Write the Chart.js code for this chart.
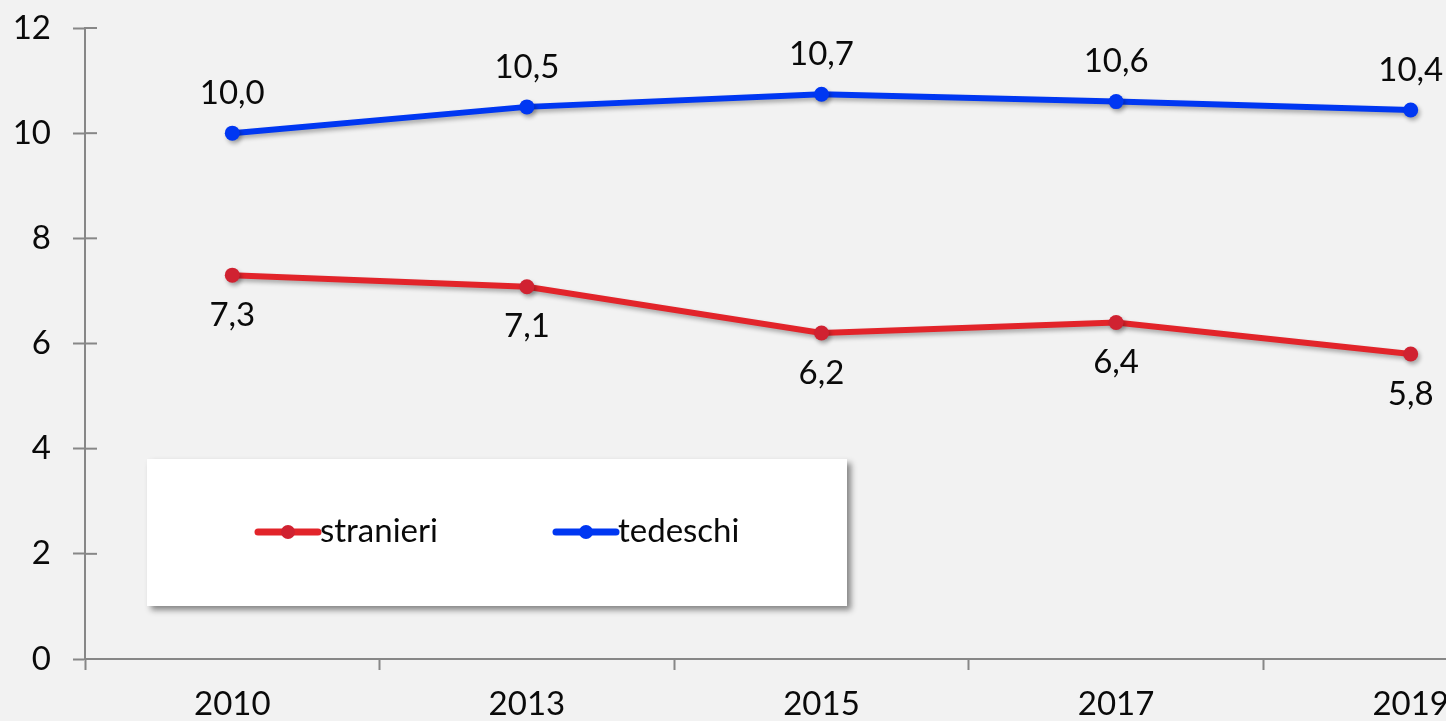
<!DOCTYPE html>
<html>
<head>
<meta charset="utf-8">
<script src="https://cdn.jsdelivr.net/npm/chart.js@4/dist/chart.umd.min.js"></script>
<style>
  html, body { margin: 0; padding: 0; background: #f2f2f2; overflow: hidden; }
  #wrap { position: absolute; left: 0; top: 0; width: 1600px; height: 740px; }
</style>
</head>
<body>
<div id="wrap"><canvas id="chart" width="1600" height="740"></canvas></div>
<script>
const years = ["2010", "2013", "2015", "2017", "2019"];
const stranieri = [7.3, 7.08, 6.2, 6.4, 5.8];
const tedeschi = [10.0, 10.5, 10.74, 10.6, 10.44];
const yTicks = [0, 2, 4, 6, 8, 10, 12];

const FONT = "Lato, 'Open Sans', sans-serif";
const FSIZE = 33;
const AXIS = "#878787";

// shadow under the lines
const lineShadow = {
  id: "lineShadow",
  beforeDatasetDraw(chart) {
    const ctx = chart.ctx;
    ctx.save();
    ctx.shadowColor = "rgba(0,0,0,0.3)";
    ctx.shadowBlur = 4;
    ctx.shadowOffsetX = 2;
    ctx.shadowOffsetY = 3;
  },
  afterDatasetDraw(chart) {
    chart.ctx.restore();
  },
};

// value labels, blue above / red below
const valueLabels = {
  id: "valueLabels",
  afterDatasetsDraw(chart) {
    const ctx = chart.ctx;
    ctx.save();
    ctx.font = FSIZE + "px " + FONT;
    ctx.fillStyle = "#0a0a0a";
    ctx.textAlign = "center";
    ctx.textBaseline = "middle";
    chart.data.datasets.forEach((ds, i) => {
      const meta = chart.getDatasetMeta(i);
      const off = ds.labelOffset;
      meta.data.forEach((pt, j) => {
        const txt = ds.data[j].toFixed(1).replace(".", ",");
        ctx.fillText(txt, pt.x, pt.y + off);
      });
    });
    ctx.restore();
  },
};

// y ticks crossing the axis + boxed legend
const extras = {
  id: "extras",
  beforeDatasetsDraw(chart) {
    const ctx = chart.ctx;
    const a = chart.chartArea;
    const y = chart.scales.y;
    ctx.save();
    ctx.strokeStyle = AXIS;
    ctx.lineWidth = 2;
    yTicks.forEach(v => {
      const py = y.getPixelForValue(v);
      ctx.beginPath();
      ctx.moveTo(a.left, py);
      ctx.lineTo(a.left + 12, py);
      ctx.stroke();
    });

    // legend box
    const bx = a.left + 62, by = 459, bw = 700, bh = 147;
    ctx.shadowColor = "rgba(0,0,0,0.45)";
    ctx.shadowBlur = 6;
    ctx.shadowOffsetX = 4;
    ctx.shadowOffsetY = 4;
    ctx.fillStyle = "#ffffff";
    ctx.fillRect(bx, by, bw, bh);
    ctx.shadowColor = "transparent";

    const items = [
      { ds: chart.data.datasets[0], x: bx + 111 },
      { ds: chart.data.datasets[1], x: bx + 409 },
    ];
    const ly = by + 73;
    ctx.font = FSIZE + "px " + FONT;
    ctx.textBaseline = "middle";
    ctx.textAlign = "left";
    items.forEach(it => {
      ctx.strokeStyle = it.ds.borderColor;
      ctx.lineWidth = 7;
      ctx.lineCap = "round";
      ctx.beginPath();
      ctx.moveTo(it.x, ly);
      ctx.lineTo(it.x + 60, ly);
      ctx.stroke();
      ctx.fillStyle = it.ds.pointBackgroundColor;
      ctx.beginPath();
      ctx.arc(it.x + 30, ly, 7, 0, Math.PI * 2);
      ctx.fill();
      ctx.fillStyle = "#0a0a0a";
      ctx.fillText(it.ds.label, it.x + 62, ly - 1);
    });
    ctx.restore();
  },
};

new Chart(document.getElementById("chart").getContext("2d"), {
  type: "line",
  data: {
    labels: years,
    datasets: [
      {
        label: "stranieri",
        data: stranieri,
        borderColor: "#e2242a",
        pointBackgroundColor: "#d02231",
        pointBorderWidth: 0,
        borderWidth: 6,
        pointRadius: 7.5,
        tension: 0,
        labelOffset: 40,
      },
      {
        label: "tedeschi",
        data: tedeschi,
        borderColor: "#0037f2",
        pointBackgroundColor: "#0037f2",
        pointBorderWidth: 0,
        borderWidth: 6,
        pointRadius: 7.5,
        tension: 0,
        labelOffset: -40,
      },
    ],
  },
  options: {
    responsive: false,
    animation: false,
    layout: { padding: { top: 28, right: 42, left: 0, bottom: 0 } },
    plugins: {
      legend: { display: false },
      tooltip: { enabled: false },
    },
    scales: {
      x: {
        offset: true,
        grid: {
          offset: true,
          drawOnChartArea: false,
          tickLength: 11,
          tickColor: AXIS,
          tickWidth: 2,
        },
        border: { color: AXIS, width: 2 },
        ticks: {
          color: "#0a0a0a",
          font: { family: FONT, size: FSIZE },
          padding: 15,
          maxRotation: 0,
        },
        afterFit(scale) {
          scale.height = 81;
          scale.paddingLeft = 0;
          scale.paddingRight = 0;
        },
      },
      y: {
        min: 0,
        max: 12,
        afterBuildTicks(scale) { scale.ticks = yTicks.map(v => ({ value: v })); },
        grid: {
          drawOnChartArea: false,
          tickLength: 12,
          tickColor: AXIS,
          tickWidth: 2,
        },
        border: { color: AXIS, width: 2 },
        ticks: {
          color: "#0a0a0a",
          font: { family: FONT, size: FSIZE },
          padding: 22,
        },
        afterFit(scale) {
          scale.width = 85;
          scale.paddingTop = 0;
          scale.paddingBottom = 0;
        },
      },
    },
  },
  plugins: [extras, lineShadow, valueLabels],
});
</script>
</body>
</html>
